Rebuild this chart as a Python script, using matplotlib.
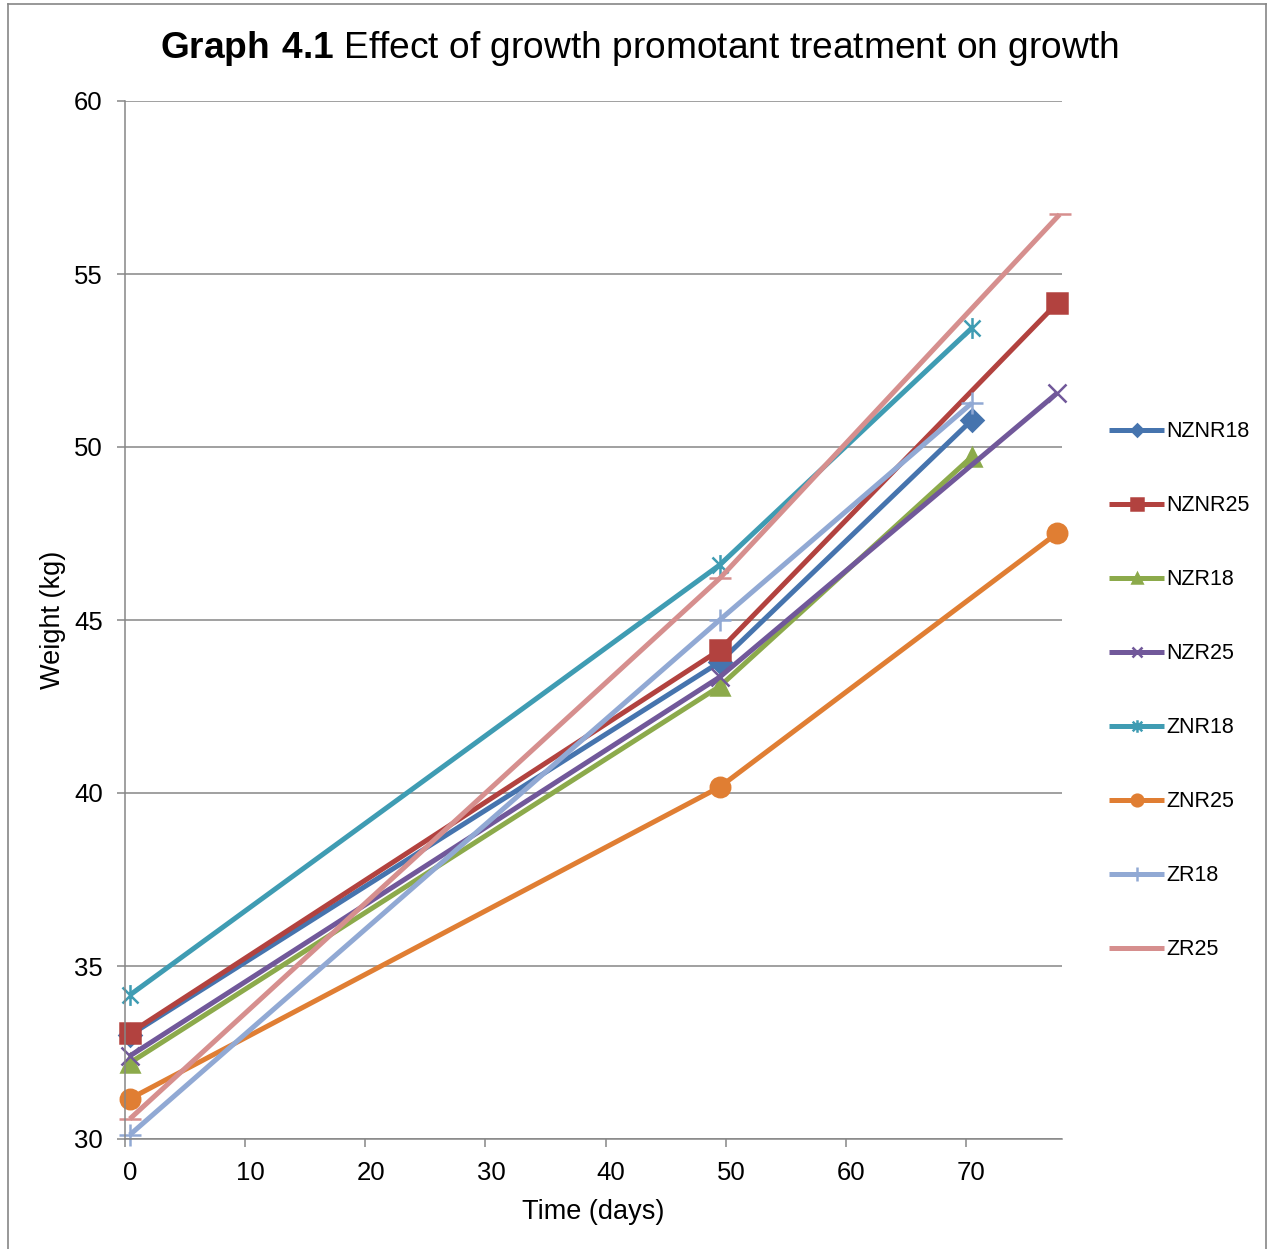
import numpy as np
import matplotlib
matplotlib.use("Agg")
import matplotlib.pyplot as plt
from matplotlib.path import Path
from matplotlib.transforms import ScaledTranslation

plt.rcParams['font.family'] = ['Liberation Sans', 'DejaVu Sans']
plt.rcParams['mathtext.fontset'] = 'custom'
plt.rcParams['mathtext.rm'] = 'Liberation Sans'
plt.rcParams['mathtext.bf'] = 'Liberation Sans:bold'

# data
names = ["NZNR18", "NZNR25", "NZR18", "NZR25", "ZNR18", "ZNR25", "ZR18", "ZR25"]
days_nznr18 = [0.4, 49.5, 70.5]
wt_nznr18 = [33.0, 43.78, 50.78]
days_nznr25 = [0.4, 49.5, 77.6]
wt_nznr25 = [33.06, 44.13, 54.16]
days_nzr18 = [0.4, 49.5, 70.5]
wt_nzr18 = [32.2, 43.08, 49.72]
days_nzr25 = [0.4, 49.5, 77.6]
wt_nzr25 = [32.4, 43.35, 51.56]
days_znr18 = [0.4, 49.5, 70.5]
wt_znr18 = [34.16, 46.59, 53.44]
days_znr25 = [0.4, 49.5, 77.6]
wt_znr25 = [31.16, 40.17, 47.51]
days_zr18 = [0.4, 49.5, 70.5]
wt_zr18 = [30.12, 45.0, 51.27]
days_zr25 = [0.4, 49.5, 77.8]
wt_zr25 = [30.58, 46.2, 56.72]

all_days = [days_nznr18, days_nznr25, days_nzr18, days_nzr25,
            days_znr18, days_znr25, days_zr18, days_zr25]
all_wts = [wt_nznr18, wt_nznr25, wt_nzr18, wt_nzr25,
           wt_znr18, wt_znr25, wt_zr18, wt_zr25]

colors = ['#4674AE', '#B2423F', '#8CAA4B', '#71589A',
          '#3F9CB3', '#E07E33', '#91A9D4', '#D68F8E']

# excel style star: x with a vertical bar
star = Path([(-1, -1), (1, 1), (-1, 1), (1, -1), (0, -1.3), (0, 1.3)],
            [Path.MOVETO, Path.LINETO, Path.MOVETO, Path.LINETO, Path.MOVETO, Path.LINETO])
markers = ['D', 's', '^', 'x', star, 'o', '+', '_']
msizes = [11, 14, 13, 13, 15, 14, 16, 16]

fig = plt.figure(figsize=(12.73, 12.49), dpi=100)
ax = fig.add_axes([125/1273, 1 - 1139/1249, (1062-125)/1273, (1139-101)/1249])

for i in range(len(names)):
    ax.plot(all_days[i], all_wts[i], color=colors[i], lw=3.6,
            marker=markers[i], markersize=msizes[i], markeredgewidth=1.8,
            markeredgecolor=colors[i], label=names[i], clip_on=False,
            solid_joinstyle='round', solid_capstyle='butt')

ax.set_xlim(0, 78)
ax.set_ylim(30, 60)
ax.set_xticks(np.arange(0, 80, 10))
ax.set_yticks(np.arange(30, 65, 5))
ax.yaxis.grid(True, color='#868686', lw=1.1)
ax.set_axisbelow(True)
for s in ['top', 'right']:
    ax.spines[s].set_visible(False)
for s in ['left', 'bottom']:
    ax.spines[s].set_color('#868686')
    ax.spines[s].set_linewidth(1.1)
ax.tick_params(axis='both', direction='out', length=6, width=1.1,
               color='#868686', labelsize=18.5)
ax.tick_params(axis='y', pad=10)
ax.tick_params(axis='x', pad=10)
for lab in ax.get_xticklabels():
    lab.set_transform(lab.get_transform() + ScaledTranslation(4/72, 0, fig.dpi_scale_trans))

ax.set_xlabel("Time (days)", fontsize=19.5, labelpad=10)
ax.set_ylabel("Weight (kg)", fontsize=19.5, labelpad=6)

fig.text(639/1273, 1 - 49/1249, r"$\mathbf{Graph\ 4.1}$ Effect of growth promotant treatment on growth",
         ha='center', va='center', fontsize=26.7)

leg = ax.legend(loc='upper left', bbox_to_anchor=(1.03, 0.71), frameon=False,
                fontsize=15.5, handlelength=2.55, handletextpad=0.1,
                labelspacing=2.46, markerscale=0.6)

# border around the chart area
fig.add_artist(plt.Line2D([8/1273, 8/1273], [0, 1 - 4/1249], transform=fig.transFigure, color='#868686', lw=1.2))
fig.add_artist(plt.Line2D([8/1273, 1266/1273], [1 - 4/1249, 1 - 4/1249], transform=fig.transFigure, color='#868686', lw=1.2))
fig.add_artist(plt.Line2D([1266/1273, 1266/1273], [0, 1 - 4/1249], transform=fig.transFigure, color='#868686', lw=1.2))

fig.savefig("out.png", dpi=100)
